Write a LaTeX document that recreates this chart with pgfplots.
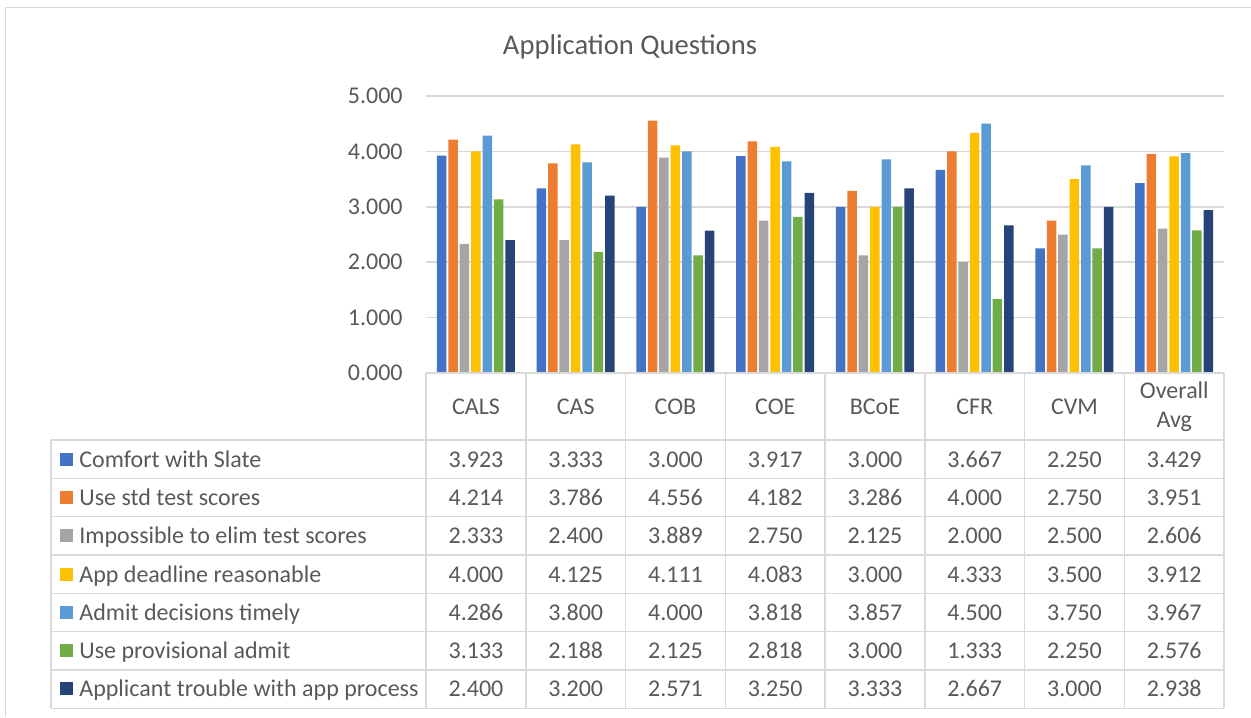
\documentclass[border=0pt]{standalone}
\usepackage{pgfplots}
\usepackage{pgfplotstable}
\pgfplotsset{compat=1.18}
\usepackage{fontspec}
\setmainfont{Carlito}
\definecolor{txt}{HTML}{595959}
\definecolor{gridc}{HTML}{D9D9D9}
\definecolor{c1}{HTML}{4472C4}
\definecolor{c2}{HTML}{ED7D31}
\definecolor{c3}{HTML}{A5A5A5}
\definecolor{c4}{HTML}{FFC000}
\definecolor{c5}{HTML}{5B9BD5}
\definecolor{c6}{HTML}{70AD47}
\definecolor{c7}{HTML}{264478}

\pgfplotstableread{
idx s1 s2 s3 s4 s5 s6 s7
0 3.923 4.214 2.333 4.000 4.286 3.133 2.400
1 3.333 3.786 2.400 4.125 3.800 2.188 3.200
2 3.000 4.556 3.889 4.111 4.000 2.125 2.571
3 3.917 4.182 2.750 4.083 3.818 2.818 3.250
4 3.000 3.286 2.125 3.000 3.857 3.000 3.333
5 3.667 4.000 2.000 4.333 4.500 1.333 2.667
6 2.250 2.750 2.500 3.500 3.750 2.250 3.000
7 3.429 3.951 2.606 3.912 3.967 2.576 2.938
}\datatable

\begin{document}
\begin{tikzpicture}[x=0.5pt,y=-0.5pt]
\path[use as bounding box] (0,0) rectangle (1251,717);
\draw[gridc, line width=0.75pt] (5.5,717) -- (5.5,7.5) -- (1251,7.5);
\node[anchor=base, text=txt, font=\fontsize{14.3}{17}\selectfont] at (630,55) {Application Questions};

\begin{axis}[
  at={(213pt,-186.5pt)}, anchor=south west,
  scale only axis, width=399pt, height=138.5pt,
  xmin=-0.5, xmax=7.5, ymin=0, ymax=5,
  ytick={0,1,2,3,4,5}, xtick=\empty,
  axis line style={draw=none},
  major tick length=0pt,
  ymajorgrids, grid style={gridc, line width=0.75pt},
  yticklabel style={anchor=east, inner sep=0pt, xshift=-11.5pt, text=txt, font=\fontsize{12}{14}\selectfont},
  /pgf/number format/.cd, fixed, fixed zerofill, precision=3, assume math mode=true,
  /pgfplots/.cd,
  ybar=0.95pt, bar width=4.75pt,
  clip=false,
]
\addplot[fill=c1, draw=none] table[x=idx, y=s1] {\datatable};
\addplot[fill=c2, draw=none] table[x=idx, y=s2] {\datatable};
\addplot[fill=c3, draw=none] table[x=idx, y=s3] {\datatable};
\addplot[fill=c4, draw=none] table[x=idx, y=s4] {\datatable};
\addplot[fill=c5, draw=none] table[x=idx, y=s5] {\datatable};
\addplot[fill=c6, draw=none] table[x=idx, y=s6] {\datatable};
\addplot[fill=c7, draw=none] table[x=idx, y=s7] {\datatable};
\end{axis}

% data table grid
\begin{scope}[gridc, line width=0.75pt]
\draw (426,373) -- (1224,373);
\foreach \yy in {440,478.3,516.6,555,593.3,631.6,670,708.3} \draw (51,\yy) -- (1224,\yy);
\foreach \i in {0,...,8} {\pgfmathsetmacro\xx{426+99.75*\i} \draw (\xx,373) -- (\xx,708.3);}
\draw (51,440) -- (51,708.3);
\end{scope}

% header
\begin{scope}[text=txt, font=\fontsize{12}{14.5}\selectfont]
\foreach \lab [count=\i from 0] in {CALS,CAS,COB,COE,BCoE,CFR,CVM} {
  \pgfmathsetmacro\xx{476+99.75*\i}
  \node[anchor=base] at (\xx,414) {\lab};
}
\node[align=center, anchor=center] at (1174.3,407) {Overall\\Avg};

% legend column
\foreach \lab [count=\c] in {Comfort with Slate,Use std test scores,Impossible to elim test scores,App deadline reasonable,Admit decisions timely,Use provisional admit,Applicant trouble with app process} {
  \pgfmathsetmacro\yy{440+38.3*(\c-0.5)}
  \fill[c\c] (60,\yy-6.5) rectangle (73,\yy+6.5);
  \node[anchor=base west, inner sep=0pt] at (79,\yy+8) {\lab};
}

% values
\foreach \r in {0,...,7} {
  \foreach \c in {1,...,7} {
    \pgfmathsetmacro\xx{476+99.75*\r}
    \pgfmathsetmacro\yy{440+38.3*(\c-0.5)+8}
    \pgfplotstablegetelem{\r}{s\c}\of\datatable
    \node[anchor=base] at (\xx,\yy) {\pgfplotsretval};
  }
}
\end{scope}
\end{tikzpicture}
\end{document}
